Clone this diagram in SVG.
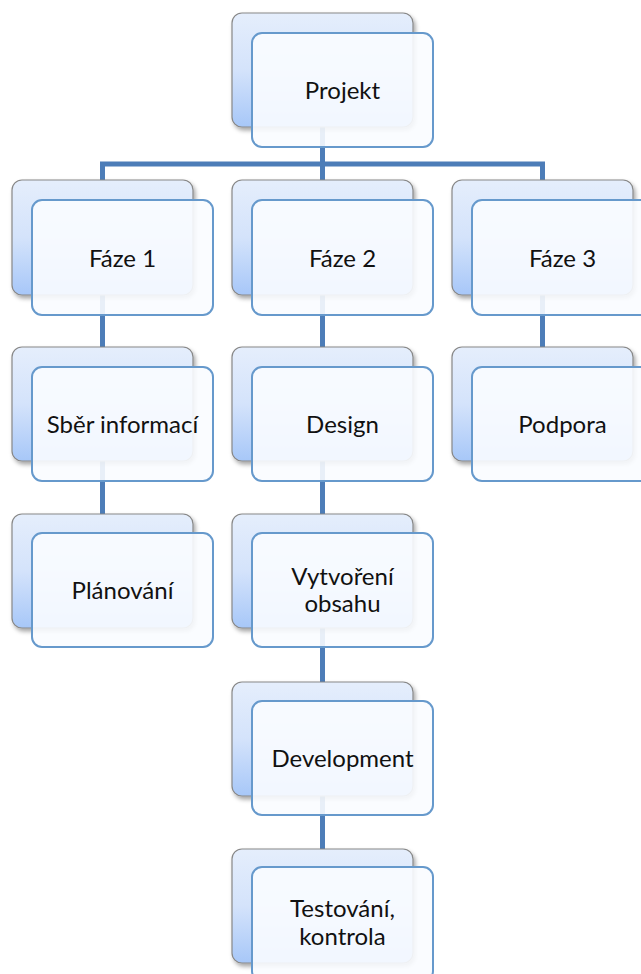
<svg xmlns="http://www.w3.org/2000/svg" width="641" height="974" viewBox="0 0 641 974">
<defs>
<linearGradient id="bg" x1="0" y1="0" x2="0" y2="1">
<stop offset="0" stop-color="#e5eefc"/>
<stop offset="0.5" stop-color="#d4e3fb"/>
<stop offset="1" stop-color="#a7c7f8"/>
</linearGradient>
<filter id="sh" x="-10%" y="-10%" width="125%" height="130%">
<feDropShadow dx="2" dy="3" stdDeviation="2" flood-color="#000" flood-opacity="0.35"/>
</filter>
<style>
.back{fill:url(#bg);stroke:#888;stroke-width:1.2;filter:url(#sh)}
.front{fill:#fafcff;fill-opacity:0.9;stroke:#6699cc;stroke-width:2}
.lbl{font-family:Lato,"Open Sans",sans-serif;font-size:24px;fill:#111;text-anchor:middle}
.con{fill:none;stroke:#4d7db8;stroke-width:5}
</style>
</defs>
<rect width="641" height="974" fill="#fff"/>
<g id="connectors">
<path class="con" d="M322.5 127 V849"/>
<path class="con" d="M102.5 180 V164 H542.5 V180"/>
<path class="con" d="M102.5 180 V514"/>
<path class="con" d="M542.5 180 V347"/>
</g>
<g id="projekt">
<rect class="back" x="232" y="13" width="181" height="114" rx="10"/>
<rect class="front" x="252" y="33" width="181" height="114" rx="10"/>
<text class="lbl" x="342.5" y="99">Projekt</text>
</g>
<g id="faze1">
<rect class="back" x="12" y="180" width="181" height="115" rx="10"/>
<rect class="front" x="32" y="200" width="181" height="115" rx="10"/>
<text class="lbl" x="122.5" y="266.5">Fáze 1</text>
</g>
<g id="faze2">
<rect class="back" x="232" y="180" width="181" height="115" rx="10"/>
<rect class="front" x="252" y="200" width="181" height="115" rx="10"/>
<text class="lbl" x="342.5" y="266.5">Fáze 2</text>
</g>
<g id="faze3">
<rect class="back" x="452" y="180" width="181" height="115" rx="10"/>
<rect class="front" x="472" y="200" width="181" height="115" rx="10"/>
<text class="lbl" x="562.5" y="266.5">Fáze 3</text>
</g>
<g id="sber">
<rect class="back" x="12" y="347" width="181" height="114" rx="10"/>
<rect class="front" x="32" y="367" width="181" height="114" rx="10"/>
<text class="lbl" x="122.5" y="433">Sběr informací</text>
</g>
<g id="planovani">
<rect class="back" x="12" y="514" width="181" height="114" rx="10"/>
<rect class="front" x="32" y="533" width="181" height="114" rx="10"/>
<text class="lbl" x="122.5" y="599">Plánování</text>
</g>
<g id="design">
<rect class="back" x="232" y="347" width="181" height="114" rx="10"/>
<rect class="front" x="252" y="367" width="181" height="114" rx="10"/>
<text class="lbl" x="342.5" y="433">Design</text>
</g>
<g id="vytvoreni">
<rect class="back" x="232" y="514" width="181" height="114" rx="10"/>
<rect class="front" x="252" y="533" width="181" height="114" rx="10"/>
<text class="lbl" x="342.5" y="585">Vytvoření</text>
<text class="lbl" x="342.5" y="612">obsahu</text>
</g>
<g id="development">
<rect class="back" x="232" y="682" width="181" height="114" rx="10"/>
<rect class="front" x="252" y="701" width="181" height="114" rx="10"/>
<text class="lbl" x="342.5" y="767">Development</text>
</g>
<g id="testovani">
<rect class="back" x="232" y="849" width="181" height="114" rx="10"/>
<rect class="front" x="252" y="867" width="181" height="114" rx="10"/>
<text class="lbl" x="342.5" y="917">Testování,</text>
<text class="lbl" x="342.5" y="945">kontrola</text>
</g>
<g id="podpora">
<rect class="back" x="452" y="347" width="181" height="114" rx="10"/>
<rect class="front" x="472" y="367" width="181" height="114" rx="10"/>
<text class="lbl" x="562.5" y="433">Podpora</text>
</g>
</svg>
